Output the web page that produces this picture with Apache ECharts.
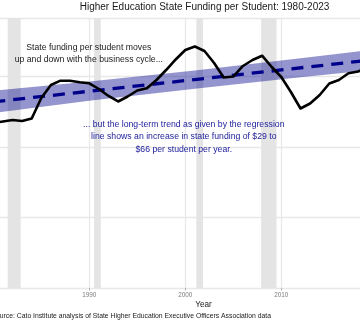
<!DOCTYPE html>
<html>
<head>
<meta charset="utf-8">
<script src="https://cdn.jsdelivr.net/npm/echarts@6/dist/echarts.min.js"></script>
<style>
html,body{margin:0;padding:0;background:#fff;overflow:hidden;width:360px;height:324px;}
#chart{position:absolute;left:-120px;top:0;width:620px;height:324px;}
</style>
</head>
<body>
<div id="chart"></div>
<script>
// ---- data ----
const years = [1980,1981,1982,1983,1984,1985,1986,1987,1988,1989,1990,1991,1992,1993,1994,1995,1996,1997,1998,1999,2000,2001,2002,2003,2004,2005,2006,2007,2008,2009,2010,2011,2012,2013,2014,2015,2016,2017,2018,2019,2020,2021,2022,2023];
const fundingPerStudent = [7028,7092,7156,7113,7220,8093,8646,8830,8830,8761,8719,8476,8178,7944,8157,8412,8506,8859,9285,9733,10137,10286,10094,9583,8966,9008,9456,9711,9894,9413,8987,8348,7645,7858,8220,8710,8859,9145,9221,9400,9550,9700,9900,10050];
const trendYears = [1980, 2023];
const trendValues = [7927, 9877];
const bandYears = [1980, 1990, 2001, 2012, 2023];
const bandLower = [7457, 7971, 8489, 8973, 9437];
const bandUpper = [8397, 8791, 9269, 9783, 10317];
const recessionStart = [1981.5, 1990.5, 2001.15, 2007.9, 2020.1];
const recessionEnd   = [1982.85, 1991.2, 2001.85, 2009.5, 2020.3];
const titleText = 'Higher Education State Funding per Student: 1980-2023';
const note1 = 'State funding per student moves\nup and down with the business cycle...';
const note2 = '... but the long-term trend as given by the regression\nline shows an increase in state funding of $29 to\n$66 per student per year.';
const xTitle = 'Year';
const sourceText = 'Source: Cato Institute analysis of State Higher Education Executive Officers Association data';

const FONT = '"Liberation Sans", Arial, Helvetica, sans-serif';
const chart = echarts.init(document.getElementById('chart'), null, {renderer: 'canvas'});

const lineData = years.map((y, i) => [y, fundingPerStudent[i]]);
const trendData = trendYears.map((y, i) => [y, trendValues[i]]);
const recessionAreas = recessionStart.map((s, i) => [{xAxis: s}, {xAxis: recessionEnd[i]}]);

const option = {
  animation: false,
  backgroundColor: '#ffffff',
  grid: {left: 17.3, right: 26.7, top: 18, bottom: 36, containLabel: false},
  xAxis: {
    type: 'value', min: 1970, max: 2030, interval: 10,
    axisLine: {show: false},
    axisTick: {show: true, length: 2.5, lineStyle: {color: '#b0b0b0', width: 1}},
    axisLabel: {fontSize: 6.3, color: '#7a7a7a', margin: 4, fontFamily: FONT,
                formatter: function (v) { return String(v); }},
    splitLine: {show: true, lineStyle: {color: '#e8e8e8', width: 1.3}}
  },
  yAxis: {
    type: 'value', min: 0, max: 11500, interval: 3000,
    axisLine: {show: false}, axisTick: {show: false},
    axisLabel: {show: false},
    splitLine: {show: true, lineStyle: {color: '#e8e8e8', width: 1.3}}
  },
  series: [
    {
      name: 'recessions', type: 'line', data: lineData, z: 1,
      showSymbol: false, lineStyle: {opacity: 0}, silent: true,
      markArea: {silent: true, itemStyle: {color: '#e4e4e4'}, data: recessionAreas}
    },
    {
      name: 'band', type: 'custom', z: 2, silent: true,
      data: [[0]],
      renderItem: function (params, api) {
        const pts = [];
        for (let i = 0; i < bandYears.length; i++) pts.push(api.coord([bandYears[i], bandUpper[i]]));
        for (let i = bandYears.length - 1; i >= 0; i--) pts.push(api.coord([bandYears[i], bandLower[i]]));
        return {type: 'polygon', shape: {points: pts}, style: {fill: 'rgba(0,0,139,0.42)', stroke: 'none'}};
      }
    },
    {
      name: 'trend', type: 'line', data: trendData, z: 3,
      showSymbol: false, silent: true,
      lineStyle: {color: '#00008b', width: 3.3, type: [12, 8], cap: 'butt'}
    },
    {
      name: 'funding', type: 'line', data: lineData, z: 4,
      showSymbol: false, silent: true,
      lineStyle: {color: '#000000', width: 2.6, join: 'round', cap: 'round'}
    }
  ],
  graphic: [
    {type: 'text', x: 324.5, y: 7.5, silent: true,
     style: {text: titleText, fill: '#1a1a1a', fontSize: 10, fontFamily: FONT, textAlign: 'center', textVerticalAlign: 'middle'}},
    {type: 'text', x: 208.8, y: 53.7, silent: true, z: 10,
     style: {text: note1, fill: '#1a1a1a', fontSize: 8.7, lineHeight: 12.7, fontFamily: FONT, textAlign: 'center', textVerticalAlign: 'middle'}},
    {type: 'text', x: 303.8, y: 136.8, silent: true, z: 10,
     style: {text: note2, fill: '#22229e', fontSize: 8.7, lineHeight: 12.5, fontFamily: FONT, textAlign: 'center', textVerticalAlign: 'middle'}},
    {type: 'text', x: 323.5, y: 305, silent: true,
     style: {text: xTitle, fill: '#1a1a1a', fontSize: 8.2, fontFamily: FONT, textAlign: 'center', textVerticalAlign: 'middle'}},
    {type: 'text', x: 111.5, y: 316, silent: true,
     style: {text: sourceText, fill: '#1a1a1a', fontSize: 6.8, fontFamily: FONT, textAlign: 'left', textVerticalAlign: 'middle'}}
  ]
};
chart.setOption(option);
</script>
</body>
</html>
